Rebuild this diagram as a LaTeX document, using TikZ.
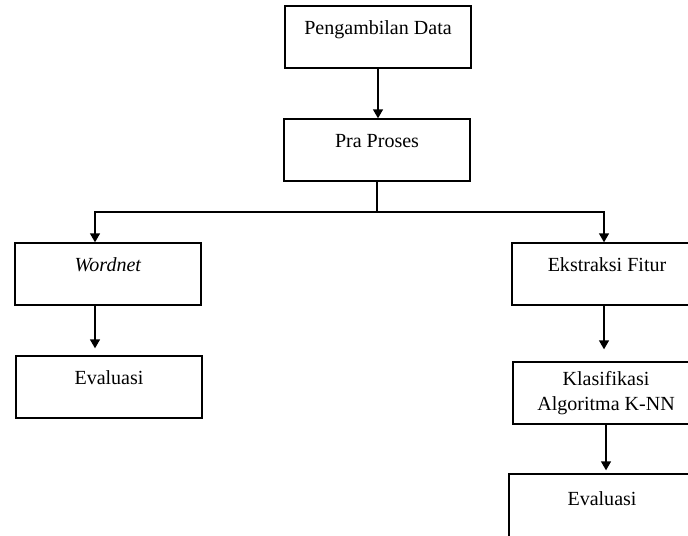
\documentclass[tikz,border=0pt]{standalone}
\usepackage{fontspec}
\setmainfont{Liberation Serif}
\usetikzlibrary{arrows.meta}

\begin{document}
\begin{tikzpicture}[>={Triangle[length=1.8mm,width=2mm]},x=0.02cm,y=-0.02cm,
  line width=0.8pt,
  frame/.style={draw,minimum width=3.72cm,minimum height=1.24cm,inner sep=0pt,
    font=\fontsize{11.4}{14.2}\selectfont},
  box/.style={frame,text height=0.7em,text depth=9.5pt}]
  \useasboundingbox (0,0) rectangle (688,535);
  % upper column
  \node (data) at (378,37)[box]{Pengambilan Data};
  \node (pra) at (377,150)[box]{Pra Proses};
  % left branch
  \node (wordnet) at (108,274)[box]{\textit{Wordnet}};
  \node (evalA) at (109,387)[box]{Evaluasi};
  % right branch
  \node (ekstraksi) at (607,274)[box,minimum width=3.8cm]{Ekstraksi Fitur};
  \node (knn) at (606,393)[frame,align=center]{Klasifikasi\\Algoritma K-NN};
  \node (evalB) at (602,508)[box,minimum height=1.36cm]{Evaluasi};
  \coordinate (split) at (377,212);
  \draw[->] (data.south) -- (data.south |- pra.north);
  \draw (pra.south) -- (split);
  \draw[->] (split) -| ([xshift=-0.26cm]wordnet.north);
  \draw[->] (split) -| ([xshift=-0.06cm]ekstraksi.north);
  \draw[->,shorten >=0.14cm] ([xshift=-0.26cm]wordnet.south) -- ([xshift=-0.26cm]wordnet.south |- evalA.north);
  \draw[->,shorten >=0.24cm] ([xshift=-0.06cm]ekstraksi.south) -- ([xshift=-0.06cm]ekstraksi.south |- knn.north);
  \draw[->,shorten >=0.06cm] (knn.south) -- (knn.south |- evalB.north);
\end{tikzpicture}
\end{document}
